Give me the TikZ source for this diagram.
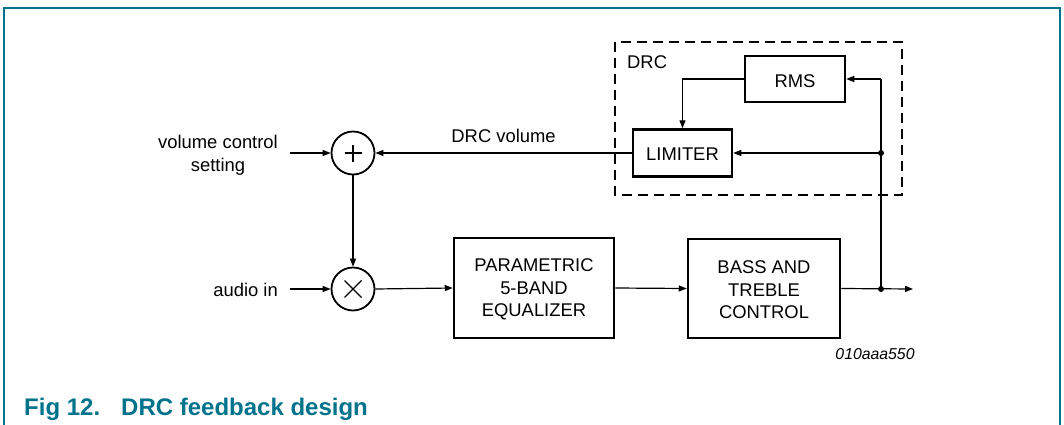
\documentclass[tikz,border=0pt]{standalone}
\usepackage{fontspec}
\setmainfont{Liberation Sans}
\usetikzlibrary{arrows.meta}
\definecolor{nxpteal}{RGB}{0,115,140}
\tikzset{
  px/.style={x=1pt,y=-1pt},
  blk/.style={draw,line width=2.5pt,inner sep=0pt},
  lbl/.style={inner sep=0pt,align=center,font=\fontsize{18.4}{22.5}\selectfont},
  sumc/.style={draw,circle,line width=1.8pt,minimum size=43pt,inner sep=0pt},
  conn/.style={line width=1.2pt,-{Triangle[length=8pt,width=6pt]}},
  wire/.style={line width=1.2pt},
  jdot/.style={circle,fill,inner sep=0pt,minimum size=6pt},
}
\begin{document}
\begin{tikzpicture}[px]
\useasboundingbox (0,0) rectangle (1064,425);
% frame
\draw[nxpteal,line width=1.5pt] (4,425) -- (4,8) -- (1060,8) -- (1060,425);
% DRC dashed box
\draw[line width=2.4pt,dash pattern=on 10pt off 6pt] (615,42) rectangle (902,195);
\node[lbl,anchor=west] (drclbl) at (627,62) {DRC};
% blocks
\node[blk,minimum width=100pt,minimum height=46pt] (rms) at (795,79) {};
\node[lbl] (rmst) at (795,81) {RMS};
\node[blk,minimum width=99pt,minimum height=47pt] (lim) at (682.5,153) {};
\node[lbl] (limt) at (682.5,154.5) {LIMITER};
\node[blk,minimum width=160pt,minimum height=100pt] (eq) at (534,288) {};
\node[lbl] (eqt) at (534,289.5) {PARAMETRIC\\5-BAND\\EQUALIZER};
\node[blk,minimum width=152pt,minimum height=99pt] (bass) at (764,288.5) {};
\node[lbl] (basst) at (764,290) {BASS AND\\TREBLE\\CONTROL};
% summing nodes
\node[sumc] (plus) at (353,153) {};
\node[sumc] (mult) at (353,289) {};
\draw[wire] ([xshift=-8.5pt]plus.center) -- ([xshift=8.5pt]plus.center);
\draw[wire] ([yshift=-8.5pt]plus.center) -- ([yshift=8.5pt]plus.center);
\draw[wire] ([shift={(-8.5pt,-8.5pt)}]mult.center) -- ([shift={(8.5pt,8.5pt)}]mult.center);
\draw[wire] ([shift={(-8.5pt,8.5pt)}]mult.center) -- ([shift={(8.5pt,-8.5pt)}]mult.center);
% inputs
\node[lbl] (vcs) at (218,155) {volume control\\setting};
\node[lbl,anchor=east] (ain) at (278,290) {audio in};
\coordinate (vcsin) at (290,153);
\coordinate (ainin) at (290,289);
\draw[conn] (vcsin) -- (plus.west);
\draw[conn] (ainin) -- (mult.west);
\draw[conn] (plus.south) -- (mult.north);
\draw[conn] (mult.east) -- (eq.west);
\draw[conn] (eq.east) -- (bass.west);
% output and feedback
\coordinate (outend) at (913,289);
\coordinate (jout) at (881,289);
\coordinate (jlim) at (881,153);
\coordinate (jrms) at (881,79);
\coordinate (rmsdown) at (682.5,79);
\draw[conn] (bass.east) -- (outend);
\draw[wire] (jout) -- (jrms);
\draw[conn] (jrms) -- (rms.east);
\draw[conn] (jlim) -- (lim.east);
\draw[conn] (rms.west) -- (rmsdown) -- (lim.north);
\draw[conn] (lim.west) -- (plus.east) node[lbl,midway,above=10pt] (drcv) {DRC volume};
\node[jdot] (d1) at (jout) {};
\node[jdot] (d2) at (jlim) {};
% code
\node[inner sep=0pt,font=\fontsize{15.8}{18}\selectfont\itshape] (code) at (875,354) {010aaa550};
% caption
\node[anchor=base west,inner sep=0pt,text=nxpteal,font=\fontsize{24}{28}\selectfont\bfseries] (fig) at (24,415) {Fig 12.};
\node[anchor=base west,inner sep=0pt,text=nxpteal,font=\fontsize{24}{28}\selectfont\bfseries] (cap) at (121,415) {DRC feedback design};
\end{tikzpicture}
\end{document}
